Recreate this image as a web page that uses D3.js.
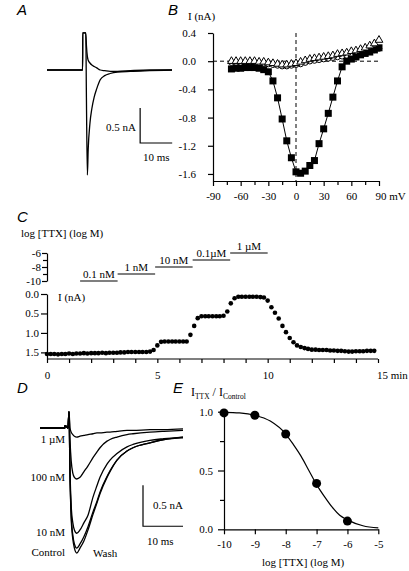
<!DOCTYPE html>
<html>
<head>
<meta charset="utf-8">
<script src="https://cdn.jsdelivr.net/npm/d3@7/dist/d3.min.js"></script>
<style>
html,body{margin:0;padding:0;background:#fff;}
svg{display:block;}
</style>
</head>
<body>
<svg id="fig" width="409" height="571"></svg>
<script>
// ---------------- DATA ----------------
// Panel A: current traces (time in ms, current in nA)
const aTime    = [0, 11.1, 11.15, 12.1, 12.3, 12.6, 12.85, 13.4, 14.0, 14.7, 15.5, 16.6, 18, 19.7, 22, 26, 32, 39];
const aControl = [0, 0, 0.53, 0.53, -0.4, -1.5, -1.14, -0.76, -0.55, -0.39, -0.27, -0.14, -0.08, -0.05, -0.03, -0.02, -0.01, 0];
const aTTX     = [0, 0, 0.53, 0.53, 0.35, 0.19, 0.14, 0.10, 0.07, 0.05, 0.03, 0.0, -0.01, -0.02, -0.02, -0.01, 0, 0];

// Panel B: I-V relation (mV, nA)
const bVoltage = [-70,-65,-60,-55,-50,-45,-40,-35,-30,-25,-20,-15,-10,-5,0,5,10,15,20,25,30,35,40,45,50,55,60,65,70,75,80,85,90];
const bControl = [-0.11,-0.10,-0.10,-0.09,-0.09,-0.09,-0.10,-0.12,-0.15,-0.28,-0.52,-0.82,-1.13,-1.37,-1.57,-1.59,-1.56,-1.48,-1.41,-1.17,-0.96,-0.74,-0.51,-0.28,-0.08,0.00,0.03,0.06,0.09,0.11,0.13,0.16,0.19];
const bTTX     = [0.00,0.00,0.00,0.00,0.00,0.00,-0.01,-0.01,-0.02,-0.03,-0.04,-0.05,-0.05,-0.04,-0.03,-0.01,0.01,0.03,0.04,0.05,0.06,0.07,0.08,0.10,0.11,0.12,0.14,0.15,0.17,0.19,0.22,0.25,0.30];
const bWash    = [-0.02,-0.02,-0.02,-0.02,-0.02,-0.02,-0.03,-0.03,-0.04,-0.05,-0.06,-0.07,-0.07,-0.06,-0.05,-0.04,-0.02,0.00,0.01,0.02,0.03,0.04,0.05,0.06,0.07,0.08,0.09,0.10,0.12,0.13,0.14,0.16,0.18];
const bXTicks = [-90,-60,-30,0,30,60,90];
const bYTicks = [0.4,0.0,-0.4,-0.8,-1.2,-1.6];

// Panel C: time course (min, nA) and TTX application steps
const cTime = [0,0.17,0.33,0.5,0.67,0.83,1,1.17,1.33,1.5,1.67,1.83,2,2.17,2.33,2.5,2.67,2.83,3,3.17,3.33,3.5,3.67,3.83,4,4.17,4.33,4.5,4.67,4.83,5,5.17,5.33,5.5,5.67,5.83,6,6.17,6.33,6.5,6.67,6.83,7,7.17,7.33,7.5,7.67,7.83,8,8.17,8.33,8.5,8.67,8.83,9,9.17,9.33,9.5,9.67,9.83,10,10.17,10.33,10.5,10.67,10.83,11,11.17,11.33,11.5,11.67,11.83,12,12.17,12.33,12.5,12.67,12.83,13,13.17,13.33,13.5,13.67,13.83,14,14.17,14.33,14.5,14.67,14.83];
const cCurrent = [1.54,1.54,1.54,1.55,1.54,1.54,1.53,1.54,1.53,1.53,1.52,1.53,
                  1.52,1.52,1.52,1.51,1.52,1.51,1.51,1.51,1.50,1.50,1.49,1.49,
                  1.49,1.49,1.49,1.49,1.48,1.44,1.32,1.23,
                  1.22,1.22,1.22,1.22,1.22,1.22,1.22,1.05,0.82,0.62,
                  0.57,0.57,0.57,0.57,0.57,0.57,0.56,0.45,0.24,0.11,
                  0.07,0.07,0.07,0.07,0.07,0.07,0.08,0.09,
                  0.17,0.34,0.48,0.63,0.82,0.98,1.13,1.24,1.32,1.36,1.39,1.41,
                  1.43,1.43,1.44,1.44,1.44,1.45,1.45,1.46,1.46,1.47,1.48,1.48,1.47,1.47,1.47,1.46,1.46,1.46];
const cStepStart = [1.5, 3.2, 4.9, 6.6, 8.3];
const cStepEnd   = [3.2, 4.9, 6.6, 8.3, 10.0];
const cStepLog   = [-10, -9, -8, -7, -6];
const cStepLabel = ["0.1 nM", "1 nM", "10 nM", "0.1\u00b5M", "1 \u00b5M"];
const cLogTicks = [-6, -8, -10];
const cITicks = [0, 0.5, 1.0, 1.5];
const cTimeTicks = [0, 5, 10];

// Panel D: traces at different TTX concentrations (ms, nA)
const dTime    = [0, 6.2, 6.25, 7.0, 7.25, 7.5, 7.8, 8.2, 8.6, 9.2, 10, 11, 12, 13.25, 14.25, 15, 16.75, 17.5, 19.25, 21.75, 23.25, 27.5, 31, 35.75];
const dControl = [0, 0, 0.03, 0, 0.2, -0.6, -1.1, -1.35, -1.46, -1.52, -1.46, -1.37, -1.24, -1.05, -0.91, -0.8, -0.6, -0.53, -0.39, -0.28, -0.24, -0.18, -0.14, -0.11];
const dWash    = [0, 0, 0.03, 0, 0.2, -0.58, -1.06, -1.3, -1.41, -1.46, -1.41, -1.32, -1.2, -1.02, -0.89, -0.78, -0.59, -0.52, -0.39, -0.28, -0.24, -0.18, -0.14, -0.12];
const d10nM    = [0, 0, 0.03, 0, 0.2, -0.5, -0.95, -1.15, -1.24, -1.28, -1.24, -1.15, -1.06, -0.84, -0.7, -0.6, -0.44, -0.39, -0.31, -0.23, -0.2, -0.15, -0.13, -0.11];
const d100nM   = [0, 0, 0.03, 0, 0.2, -0.15, -0.4, -0.55, -0.6, -0.62, -0.6, -0.53, -0.46, -0.36, -0.29, -0.24, -0.16, -0.14, -0.11, -0.08, -0.07, -0.05, -0.04, -0.03];
const d1uM     = [0, 0, 0.03, 0, 0.2, 0.0, -0.05, -0.08, -0.1, -0.11, -0.1, -0.09, -0.08, -0.07, -0.06, -0.06, -0.05, -0.05, -0.04, -0.03, -0.03, -0.02, -0.02, -0.01];

// Panel E: dose-response (log M, ratio)
const eLogConc = [-10, -9, -8, -7, -6];
const eRatio   = [0.99, 0.97, 0.81, 0.39, 0.07];
const eFitX    = [-10, -9.5, -9, -8.5, -8, -7.75, -7.5, -7.25, -7, -6.75, -6.5, -6.25, -6, -5.5, -5];
const eFitY    = [0.995, 0.99, 0.97, 0.92, 0.81, 0.72, 0.62, 0.50, 0.38, 0.28, 0.19, 0.12, 0.08, 0.03, 0.012];
const eXTicks = [-10, -9, -8, -7, -6, -5];
const eYTicks = [0, 0.5, 1.0];

// ---------------- DRAWING ----------------
const SERIF = '"Liberation Serif","Times New Roman",serif';
const SANS = '"Liberation Sans",Arial,sans-serif';
const svg = d3.select("#fig");

function text(x, y, s, o = {}) {
  return svg.append("text")
    .attr("x", x).attr("y", y)
    .attr("font-family", o.family || SERIF)
    .attr("font-size", o.size || 11)
    .attr("font-style", o.style || "normal")
    .attr("text-anchor", o.anchor || "start")
    .attr("fill", "#000")
    .text(s);
}
function styleAxis(g) {
  g.select(".domain").attr("stroke", "#000").attr("stroke-width", 1.2);
  g.selectAll(".tick line").attr("stroke", "#000").attr("stroke-width", 1.2);
  g.selectAll(".tick text").attr("font-family", SERIF).attr("font-size", 11).attr("fill", "#000");
  return g;
}
function addAxis(axis, tx, ty) {
  return styleAxis(svg.append("g").attr("transform", `translate(${tx},${ty})`).call(axis));
}
function minorTicks(axis, tx, ty) {
  const g = addAxis(axis.tickFormat(""), tx, ty);
  g.select(".domain").remove();
  return g;
}
const fmt1 = d => d.toFixed(1);
const fmt0 = d => String(d);

// Panel letters
text(17, 15, "A", {family: SANS, size: 15, style: "italic"});
text(168, 15, "B", {family: SANS, size: 15, style: "italic"});
text(17, 222, "C", {family: SANS, size: 15, style: "italic"});
text(17, 393, "D", {family: SANS, size: 15, style: "italic"});
text(173, 393, "E", {family: SANS, size: 15, style: "italic"});

// ----- Panel A -----
const xA = d3.scaleLinear().domain([0, 39]).range([47, 172]);
const yA = d3.scaleLinear().domain([0, -1.5]).range([70, 175]);
const lineA = arr => d3.line().x((d, i) => xA(aTime[i])).y(d => yA(d)).curve(d3.curveMonotoneX)(arr);
[aTTX, aControl].forEach(s => svg.append("path").attr("d", lineA(s)).attr("fill", "none").attr("stroke", "#000").attr("stroke-width", 1.3));
// scale bar (10 ms, 0.5 nA)
const aBarT = 29.06, aBarI = -0.543;
svg.append("path")
  .attr("d", `M${xA(aBarT)},${yA(aBarI)}V${yA(aBarI - 0.5)}H${xA(aBarT + 10)}`)
  .attr("fill", "none").attr("stroke", "#000").attr("stroke-width", 1.2);
text(136, 131, "0.5 nA", {anchor: "end"});
text(143, 161, "10 ms");

// ----- Panel B -----
const xB = d3.scaleLinear().domain([-90, 90]).range([213, 379]);
const yB = d3.scaleLinear().domain([-1.7, 0.4]).range([181, 33]);
addAxis(d3.axisLeft(yB).tickValues(bYTicks).tickFormat(fmt1).tickSize(5).tickPadding(12).tickSizeOuter(0), xB(-90), 0);
const bx = addAxis(d3.axisBottom(xB).tickValues(bXTicks).tickFormat(fmt0).tickSize(5).tickPadding(6).tickSizeOuter(0), 0, yB(-1.7));
bx.selectAll(".tick text").filter(d => d === 90).text("90 mV").attr("text-anchor", "start").attr("dx", -4);
minorTicks(d3.axisBottom(xB).tickValues([-75, -45, -15, 15, 45, 75]).tickSize(4).tickSizeOuter(0), 0, yB(-1.7));
text(188, 20, "I (nA)");
// dashed zero lines
svg.append("line").attr("x1", xB(-90)).attr("x2", xB(90)).attr("y1", yB(0)).attr("y2", yB(0))
  .attr("stroke", "#000").attr("stroke-width", 1).attr("stroke-dasharray", "4,3");
svg.append("line").attr("x1", xB(0)).attr("x2", xB(0)).attr("y1", yB(0.4)).attr("y2", yB(-1.7))
  .attr("stroke", "#000").attr("stroke-width", 1).attr("stroke-dasharray", "4,3");
const lineB = arr => d3.line().x((d, i) => xB(bVoltage[i])).y(d => yB(d))(arr);
[bWash, bControl, bTTX].forEach(s => svg.append("path").attr("d", lineB(s)).attr("fill", "none").attr("stroke", "#000").attr("stroke-width", 1));
svg.append("g").selectAll("circle").data(bWash).join("circle")
  .attr("cx", (d, i) => xB(bVoltage[i])).attr("cy", d => yB(d)).attr("r", 2.8)
  .attr("fill", "#fff").attr("stroke", "#000").attr("stroke-width", 1);
svg.append("g").selectAll("rect").data(bControl).join("rect")
  .attr("x", (d, i) => xB(bVoltage[i]) - 3.5).attr("y", d => yB(d) - 3.5).attr("width", 7).attr("height", 7)
  .attr("fill", "#000");
const tri = d3.symbol().type(d3.symbolTriangle).size(26);
svg.append("g").selectAll("path").data(bTTX).join("path")
  .attr("transform", (d, i) => `translate(${xB(bVoltage[i])},${yB(d)})`).attr("d", tri)
  .attr("fill", "#fff").attr("stroke", "#000").attr("stroke-width", 1);

// ----- Panel C -----
const xC = d3.scaleLinear().domain([0, 15]).range([47, 378]);
const yLog = d3.scaleLinear().domain([-10, -6]).range([281, 253]);
const yI = d3.scaleLinear().domain([0, 1.67]).range([294, 359]);
addAxis(d3.axisLeft(yLog).tickValues(cLogTicks).tickFormat(fmt0).tickSize(5).tickPadding(1).tickSizeOuter(0), xC(0), 0);
minorTicks(d3.axisLeft(yLog).tickValues([-7, -9]).tickSize(4).tickSizeOuter(0), xC(0), 0);
addAxis(d3.axisLeft(yI).tickValues(cITicks).tickFormat(fmt1).tickSize(6).tickPadding(2).tickSizeOuter(0), xC(0), 0);
addAxis(d3.axisBottom(xC).tickValues(cTimeTicks).tickFormat(fmt0).tickSize(4).tickPadding(8).tickSizeOuter(0), 0, yI(1.67)).select(".domain").attr("d", `M${xC(0)},0H${xC(15)}`);
minorTicks(d3.axisBottom(xC).tickValues([1,2,3,4,6,7,8,9,11,12,13,14,15]).tickSize(4).tickSizeOuter(0), 0, yI(1.67));
text(xC(15) - 1, 378.5, "15 min");
text(21, 237, "log [TTX] (log M)");
text(58, 301, "I (nA)");
cStepLabel.forEach((lab, i) => {
  svg.append("line").attr("x1", xC(cStepStart[i])).attr("x2", xC(cStepEnd[i]))
    .attr("y1", yLog(cStepLog[i])).attr("y2", yLog(cStepLog[i]))
    .attr("stroke", "#000").attr("stroke-width", 1.2);
  text((xC(cStepStart[i]) + xC(cStepEnd[i])) / 2, yLog(cStepLog[i]) - 3, lab, {anchor: "middle"});
});
svg.append("g").selectAll("circle").data(cCurrent).join("circle")
  .attr("cx", (d, i) => xC(cTime[i])).attr("cy", d => yI(d)).attr("r", 2.3).attr("fill", "#000");

// ----- Panel D -----
const xD = d3.scaleLinear().domain([0, 35.75]).range([40, 183]);
const yD = d3.scaleLinear().domain([0, -1.52]).range([428, 553]);
const lineD = arr => d3.line().x((d, i) => xD(dTime[i])).y(d => yD(d)).curve(d3.curveMonotoneX)(arr);
[d1uM, d100nM, d10nM, dWash, dControl].forEach(s => svg.append("path").attr("d", lineD(s))
  .attr("fill", "none").attr("stroke", "#000").attr("stroke-width", 1.3));
const dBarT = 25.75, dBarI = -0.695;
svg.append("path")
  .attr("d", `M${xD(dBarT)},${yD(dBarI)}V${yD(dBarI - 0.5)}H${xD(dBarT + 10)}`)
  .attr("fill", "none").attr("stroke", "#000").attr("stroke-width", 1.2);
text(183, 509, "0.5 nA", {anchor: "end"});
text(147, 545, "10 ms");
text(65, 443, "1 \u00b5M", {anchor: "end"});
text(65, 481, "100 nM", {anchor: "end"});
text(65, 536, "10 nM", {anchor: "end"});
text(65, 556, "Control", {anchor: "end"});
text(93, 557, "Wash");

// ----- Panel E -----
const xE = d3.scaleLinear().domain([-10, -5]).range([224, 378.3]);
const yE = d3.scaleLinear().domain([0, 1]).range([529.3, 411.7]);
addAxis(d3.axisLeft(yE).tickValues(eYTicks).tickFormat(fmt1).tickSize(6).tickPadding(5).tickSizeOuter(0), xE(-10), 0);
minorTicks(d3.axisLeft(yE).tickValues([0.25, 0.75]).tickSize(4).tickSizeOuter(0), xE(-10), 0);
addAxis(d3.axisBottom(xE).tickValues(eXTicks).tickFormat(fmt0).tickSize(5).tickPadding(6).tickSizeOuter(0), 0, yE(0));
text(303, 566, "log [TTX] (log M)", {anchor: "middle"});
const eLab = text(191, 396, "", {size: 12});
eLab.append("tspan").text("I");
eLab.append("tspan").attr("font-size", 7.5).attr("dy", 3).text("TTX");
eLab.append("tspan").attr("font-size", 12).attr("dy", -3).text(" / I");
eLab.append("tspan").attr("font-size", 7.5).attr("dy", 3).text("Control");
svg.append("path")
  .attr("d", d3.line().x((d, i) => xE(eFitX[i])).y(d => yE(d)).curve(d3.curveMonotoneX)(eFitY))
  .attr("fill", "none").attr("stroke", "#000").attr("stroke-width", 1.2);
svg.append("g").selectAll("circle").data(eRatio).join("circle")
  .attr("cx", (d, i) => xE(eLogConc[i])).attr("cy", d => yE(d)).attr("r", 4.5).attr("fill", "#000");
</script>
</body>
</html>
